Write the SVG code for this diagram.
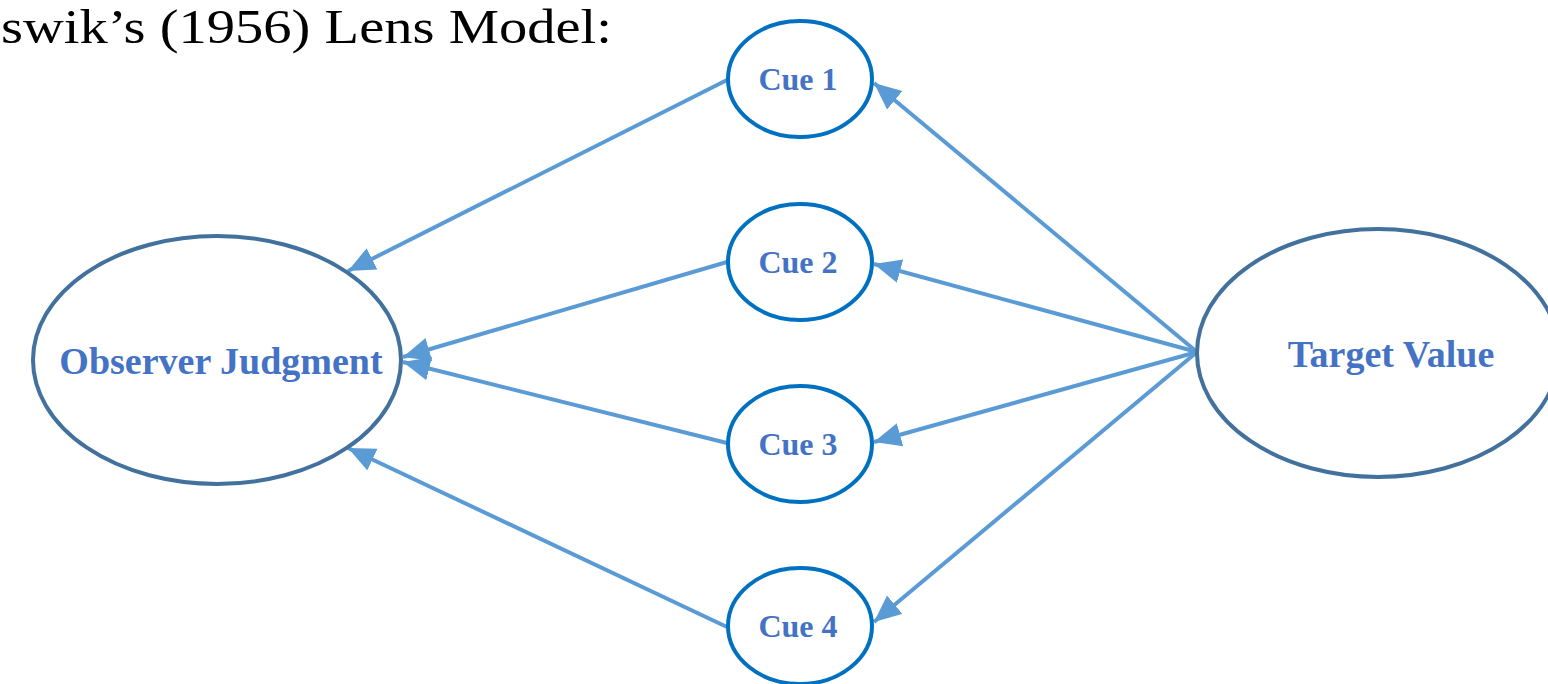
<svg xmlns="http://www.w3.org/2000/svg" width="1548" height="684" viewBox="0 0 1548 684">
  <style>
    .title { font-family: "Liberation Serif", "Times New Roman", serif; font-size: 48px; fill: #000; }
    .big { fill: #fff; stroke: #41719C; stroke-width: 4; }
    .cue { fill: #fff; stroke: #0070C0; stroke-width: 4; }
    .lbl { font-family: "Liberation Serif", "Times New Roman", serif; font-weight: bold; fill: #4472C4; text-anchor: middle; }
    .lbl-big { font-size: 38px; }
    .lbl-cue { font-size: 32px; }
    .edge { stroke: #5B9BD5; stroke-width: 4; fill: none; marker-end: url(#head); }
  </style>
  <defs>
    <marker id="head" markerUnits="userSpaceOnUse" markerWidth="30" markerHeight="26" refX="27" refY="12" orient="auto">
      <path d="M0,0 L27,12 L0,24 Z" fill="#5B9BD5"/>
    </marker>
  </defs>
  <rect width="1548" height="684" fill="#fff"/>

  <text class="title" x="1" y="43" textLength="611" lengthAdjust="spacingAndGlyphs">swik’s (1956) Lens Model:</text>

  <g id="connectors">
    <line class="edge" x1="727" y1="80" x2="348" y2="271"/>
    <line class="edge" x1="727" y1="262" x2="403" y2="357"/>
    <line class="edge" x1="727" y1="443" x2="403" y2="362"/>
    <line class="edge" x1="727" y1="627" x2="348" y2="448"/>
    <line class="edge" x1="1197" y1="352" x2="874" y2="83"/>
    <line class="edge" x1="1197" y1="352" x2="874" y2="264"/>
    <line class="edge" x1="1197" y1="352" x2="874" y2="442"/>
    <line class="edge" x1="1197" y1="352" x2="874" y2="622"/>
  </g>

  <g id="observer">
    <ellipse class="big" cx="217" cy="360" rx="184" ry="124"/>
    <text class="lbl lbl-big" x="221" y="374">Observer Judgment</text>
  </g>

  <g id="target">
    <ellipse class="big" cx="1378" cy="353" rx="181" ry="124"/>
    <text class="lbl lbl-big" x="1391" y="367">Target Value</text>
  </g>

  <g id="cue1">
    <ellipse class="cue" cx="800" cy="79" rx="72" ry="58"/>
    <text class="lbl lbl-cue" x="798" y="90">Cue 1</text>
  </g>
  <g id="cue2">
    <ellipse class="cue" cx="800" cy="262" rx="72" ry="58"/>
    <text class="lbl lbl-cue" x="798" y="273">Cue 2</text>
  </g>
  <g id="cue3">
    <ellipse class="cue" cx="800" cy="444" rx="72" ry="58"/>
    <text class="lbl lbl-cue" x="798" y="455">Cue 3</text>
  </g>
  <g id="cue4">
    <ellipse class="cue" cx="800" cy="626" rx="72" ry="58"/>
    <text class="lbl lbl-cue" x="798" y="637">Cue 4</text>
  </g>
</svg>
